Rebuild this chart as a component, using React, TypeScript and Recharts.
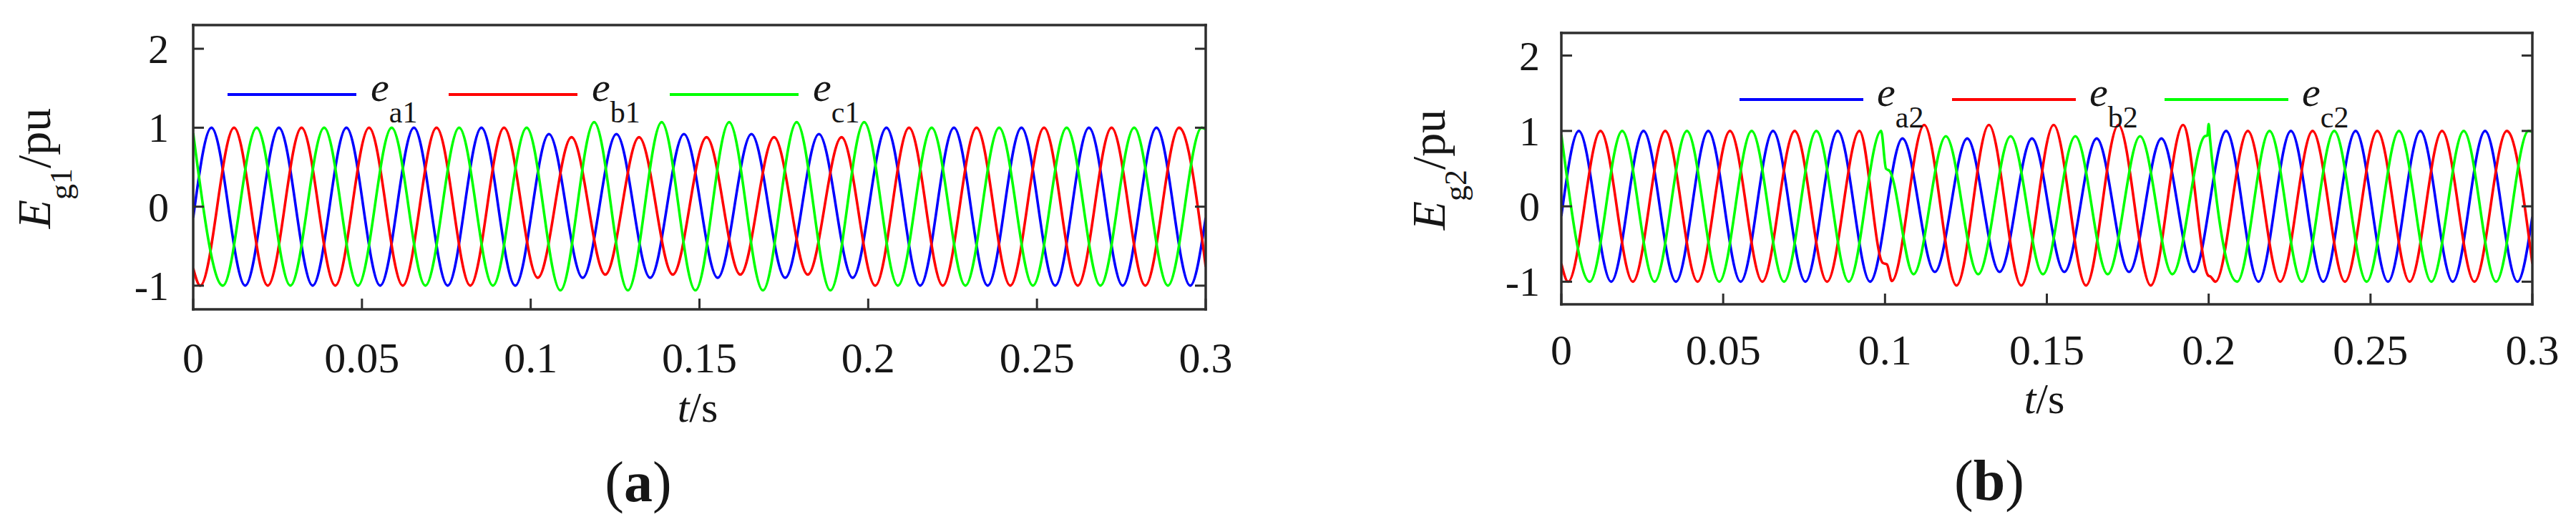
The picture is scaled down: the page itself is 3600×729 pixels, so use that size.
import React from 'react';
import { LineChart, Line, XAxis, YAxis, Legend } from 'recharts';

const timeTicks = [0, 0.05, 0.1, 0.15, 0.2, 0.25, 0.3];
const puTicks = [-1, 0, 1, 2];
const halfCycle = 0.01; // 50 Hz

// time of the first peak / trough of each phase (s)
const firstA = 0.0054;
const firstB = 0.0021;
const firstC = 0.0088;

// (a) one peak or trough per half cycle
const ea1 = [1, -1, 1, -1, 1, -1, 1, -1, 1, -1, 0.92, -0.9, 0.92, -0.9, 0.92, -0.9, 0.92, -0.9, 0.92, -0.9, 1, -1, 1, -1, 1, -1, 1, -1, 1, -1];
const eb1 = [-1, 1, -1, 1, -1, 1, -1, 1, -1, 1, -0.9, 0.88, -0.86, 0.88, -0.86, 0.88, -0.86, 0.88, -0.86, 0.88, -1, 1, -1, 1, -1, 1, -1, 1, -1, 1];
const ec1 = [-1, 1, -1, 1, -1, 1, -1, 1, -1, 1, -1.06, 1.07, -1.06, 1.07, -1.06, 1.07, -1.06, 1.07, -1.06, 1.07, -1, 1, -1, 1, -1, 1, -1, 1, -1, 1];
// values at t = 0 and t = 0.3
const ea1Ends = [-0.14, -0.14];
const eb1Ends = [-0.78, -0.76];
const ec1Ends = [0.93, 0.98];

// (b)
const ea2 = [1, -1, 1, -1, 1, -1, 1, -1, 1, -1, 0.9, -0.87, 0.9, -0.87, 0.9, -0.87, 0.9, -0.87, 0.9, -0.87, 1, -1, 1, -1, 1, -1, 1, -1, 1, -1];
const eb2 = [-1, 1, -1, 1, -1, 1, -1, 1, -1, 1, -0.99, 1.08, -1.05, 1.08, -1.05, 1.08, -1.05, 1.08, -1.05, 1.08, -1, 1, -1, 1, -1, 1, -1, 1, -1, 1];
const ec2 = [-1, 1, -1, 1, -1, 1, -1, 1, -1, 1, -0.9, 0.93, -0.9, 0.93, -0.9, 0.93, -0.9, 0.93, -0.9, 0.93, -1, 1, -1, 1, -1, 1, -1, 1, -1, 1];
const ea2Ends = [-0.13, -0.14];
const eb2Ends = [-0.76, -0.76];
const ec2Ends = [0.95, 0.99];
// notches / spike at the switching instants
const eb2Steps = [[0.0993, -0.75], [0.1006, -0.77], [0.1999, -0.92], [0.2005, -0.93]];
const ec2Steps = [[0.1003, 0.5], [0.1014, 0.47], [0.1996, 0.94], [0.2, 1.09], [0.2004, 0.9]];

const subsA = ['a1', 'b1', 'c1'];
const subsB = ['a2', 'b2', 'c2'];
const colors = ['#0000ff', '#ff0000', '#00ff00'];

const SERIF = '"Liberation Serif", "Times New Roman", serif';
const INK = '#161616';
const FRAME = '#2e2e2e';
const TICK = 15;

function wave(first: number, extrema: number[], ends: number[], steps: number[][] = []) {
  const pts = extrema.map((v, i) => ({ t: +(first + i * halfCycle).toFixed(4), v }));
  pts.push({ t: 0, v: ends[0] }, { t: 0.3, v: ends[1] });
  steps.forEach(([t, v]) => pts.push({ t, v }));
  return pts.sort((p, q) => p.t - q.t);
}

const panelA = {
  left: 0,
  plot: { l: 270, r: 1685, t: 35, b: 432 },
  series: [wave(firstA, ea1, ea1Ends), wave(firstB, eb1, eb1Ends), wave(firstC, ec1, ec1Ends)],
  subs: subsA,
  ySub: 'g1',
  xLabelOff: 88,
  yLabelGap: 34,
  legend: { x: 318, y: 132, spacing: 309, len: 180, gap: 20 },
  yTitle: { x: 70, y: 235 },
  tTitle: { x: 975, y: 589 },
  tag: { x: 892, y: 700, text: 'a' },
};

const panelB = {
  left: 1800,
  plot: { l: 382, r: 1739, t: 46, b: 425 },
  series: [wave(firstA, ea2, ea2Ends), wave(firstB, eb2, eb2Ends, eb2Steps), wave(firstC, ec2, ec2Ends, ec2Steps)],
  subs: subsB,
  ySub: 'g2',
  xLabelOff: 84,
  yLabelGap: 30,
  legend: { x: 631, y: 139, spacing: 297, len: 173, gap: 19 },
  yTitle: { x: 219, y: 237 },
  tTitle: { x: 1057, y: 577 },
  tag: { x: 980, y: 698, text: 'b' },
};

type PanelCfg = typeof panelA;

const Panel = ({ cfg }: { cfg: PanelCfg }) => {
  const { plot, legend } = cfg;
  const axisLine = { stroke: FRAME, strokeWidth: 3.5, strokeLinecap: 'square' as const };

  const bottomTick = (p: any) => (
    <g>
      <line x1={p.x} x2={p.x} y1={p.y} y2={p.y - TICK} stroke={FRAME} strokeWidth={3} />
      <text x={p.x} y={p.y + cfg.xLabelOff} textAnchor="middle" fontFamily={SERIF} fontSize={60} fill={INK}>
        {String(p.payload.value)}
      </text>
    </g>
  );
  const topTick = (p: any) => (
    <line x1={p.x} x2={p.x} y1={p.y} y2={p.y + TICK} stroke={FRAME} strokeWidth={3} />
  );
  const leftTick = (p: any) => (
    <g>
      <line x1={p.x} x2={p.x + TICK} y1={p.y} y2={p.y} stroke={FRAME} strokeWidth={3} />
      <text x={p.x - cfg.yLabelGap} y={p.y + 20} textAnchor="end" fontFamily={SERIF} fontSize={58} fill={INK}>
        {String(p.payload.value)}
      </text>
    </g>
  );
  const rightTick = (p: any) => (
    <line x1={p.x} x2={p.x - TICK} y1={p.y} y2={p.y} stroke={FRAME} strokeWidth={3} />
  );

  const legendContent = ({ payload }: any) => (
    <svg width={1000} height={100} style={{ overflow: 'visible' }}>
      {(payload || []).map((p: any, i: number) => {
        const x0 = i * legend.spacing;
        return (
          <g key={p.value}>
            <line x1={x0} x2={x0 + legend.len} y1={40} y2={40} stroke={p.color} strokeWidth={4} />
            <text x={x0 + legend.len + legend.gap} y={49} fontFamily={SERIF} fontSize={58} fill={INK}>
              <tspan fontStyle="italic">e</tspan>
              <tspan fontSize={42} dy={30}>{p.value}</tspan>
            </text>
          </g>
        );
      })}
    </svg>
  );

  // axes are 1px thick boxes sitting just outside the plot rectangle
  return (
    <div style={{ position: 'absolute', left: cfg.left, top: 0, width: 1800, height: 729 }}>
      <LineChart
        width={1800}
        height={729}
        margin={{ top: plot.t - 1, left: plot.l - 1, right: 1800 - plot.r - 1, bottom: 729 - plot.b - 1 }}
      >
        <XAxis
          dataKey="t"
          type="number"
          domain={[0, 0.3]}
          ticks={timeTicks}
          allowDataOverflow
          interval={0}
          height={1}
          tickSize={0}
          tickMargin={0}
          tickLine={false}
          axisLine={axisLine}
          tick={bottomTick}
        />
        <XAxis
          xAxisId="top"
          orientation="top"
          type="number"
          domain={[0, 0.3]}
          ticks={timeTicks}
          allowDataOverflow
          interval={0}
          height={1}
          tickSize={0}
          tickMargin={0}
          tickLine={false}
          axisLine={axisLine}
          tick={topTick}
        />
        <YAxis
          type="number"
          domain={[-1.3, 2.3]}
          ticks={puTicks}
          allowDataOverflow
          interval={0}
          width={1}
          tickSize={0}
          tickMargin={0}
          tickLine={false}
          axisLine={axisLine}
          tick={leftTick}
        />
        <YAxis
          yAxisId="right"
          orientation="right"
          type="number"
          domain={[-1.3, 2.3]}
          ticks={puTicks}
          allowDataOverflow
          interval={0}
          width={1}
          tickSize={0}
          tickMargin={0}
          tickLine={false}
          axisLine={axisLine}
          tick={rightTick}
        />
        <Legend
          layout="horizontal"
          verticalAlign="middle"
          align="center"
          content={legendContent}
          wrapperStyle={{ left: legend.x, top: legend.y - 40, width: 1000, height: 100 }}
        />
        {cfg.series.map((data, i) => (
          <Line
            key={cfg.subs[i]}
            data={data}
            dataKey="v"
            name={cfg.subs[i]}
            type="monotone"
            stroke={colors[i]}
            strokeWidth={3.6}
            dot={false}
            activeDot={false}
            isAnimationActive={false}
          />
        ))}
      </LineChart>
      <svg
        width={1800}
        height={729}
        style={{ position: 'absolute', left: 0, top: 0, pointerEvents: 'none' }}
        fontFamily={SERIF}
        fill={INK}
      >
        <text
          x={cfg.yTitle.x}
          y={cfg.yTitle.y}
          textAnchor="middle"
          fontSize={66}
          transform={`rotate(-90 ${cfg.yTitle.x} ${cfg.yTitle.y})`}
        >
          <tspan fontStyle="italic">E</tspan>
          <tspan fontSize={44} dy={30}>{cfg.ySub}</tspan>
          <tspan dy={-30}>/pu</tspan>
        </text>
        <text x={cfg.tTitle.x} y={cfg.tTitle.y} textAnchor="middle" fontSize={60}>
          <tspan fontStyle="italic">t</tspan>/s
        </text>
        <text x={cfg.tag.x} y={cfg.tag.y} textAnchor="middle" fontSize={80}>
          (<tspan fontWeight="bold">{cfg.tag.text}</tspan>)
        </text>
      </svg>
    </div>
  );
};

export default function App() {
  return (
    <div style={{ position: 'relative', width: 3600, height: 729, background: '#fff', overflow: 'hidden' }}>
      <style>{'body{margin:0}'}</style>
      <Panel cfg={panelA} />
      <Panel cfg={panelB} />
    </div>
  );
}
